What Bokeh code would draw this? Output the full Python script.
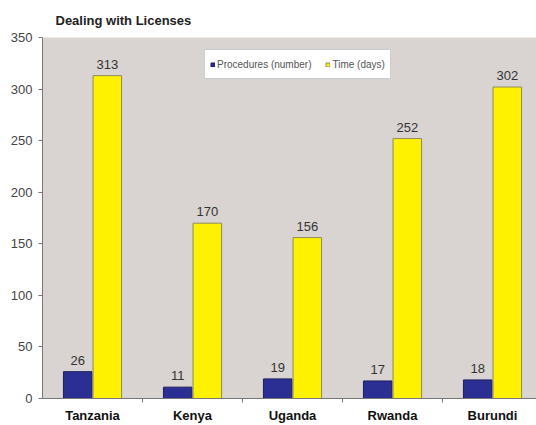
from bokeh.plotting import figure
from bokeh.models import (ColumnDataSource, Range1d, FixedTicker, LabelSet,
                          Legend, LegendItem)
from bokeh.core.properties import value
from bokeh.embed import file_html
from bokeh.resources import INLINE

countries = ["Tanzania", "Kenya", "Uganda", "Rwanda", "Burundi"]
procedures = [26, 11, 19, 17, 18]
time_days = [313, 170, 156, 252, 302]

FONT = "Liberation Sans"
BLUE = "#2b2f94"
YELLOW = "#fff200"
BG = "#d9d3d1"

centers = [i + 0.5 for i in range(len(countries))]
src = ColumnDataSource(dict(
    xp=[c - 0.148 for c in centers],
    xt=[c + 0.148 for c in centers],
    proc=procedures,
    days=time_days,
    proc_txt=[str(v) for v in procedures],
    days_txt=[str(v) for v in time_days],
))

p = figure(width=536, height=425, output_backend="svg", toolbar_location=None,
           x_range=Range1d(0, 4.94), y_range=Range1d(0, 350),
           min_border_left=42, min_border_right=0, min_border_bottom=25,
           min_border_top=37, background_fill_color=BG,
           border_fill_color="white", outline_line_color=None)

p.title.text = "Dealing with Licenses"
p.title.text_font = FONT
p.title.text_font_size = "13px"
p.title.text_font_style = "bold"
p.title.text_color = "#222222"
p.title.offset = 13
p.title.standoff = 19

p.xgrid.visible = False
p.ygrid.visible = False

rp = p.vbar(x="xp", top="proc", width=0.285, source=src, fill_color=BLUE,
            line_color="#1c1f60", line_width=1)
rt = p.vbar(x="xt", top="days", width=0.285, source=src, fill_color=YELLOW,
            line_color="#8f8a5a", line_width=1)

for col, ycol in (("xp", "proc"), ("xt", "days")):
    p.add_layout(LabelSet(x=col, y=ycol, text=ycol + "_txt", source=src,
                          text_align="center", text_baseline="bottom",
                          y_offset=7, text_font_size=value("13px"),
                          text_font=value(FONT), text_color="#333333"))

# x axis: labels centred on each country, ticks on the category boundaries
xa = p.xaxis[0]
xa.ticker = FixedTicker(ticks=centers, minor_ticks=[1, 2, 3, 4])
xa.major_label_overrides = {c: n for c, n in zip(centers, countries)}
xa.major_tick_out = 0
xa.major_tick_in = 0
xa.minor_tick_out = 4
xa.minor_tick_in = 0
xa.minor_tick_line_color = "#777777"
xa.axis_line_color = "#777777"
xa.major_label_text_font = FONT
xa.major_label_text_font_size = "13px"
xa.major_label_text_font_style = "bold"
xa.major_label_text_color = "#111111"
xa.major_label_standoff = 5

ya = p.yaxis[0]
ya.ticker = FixedTicker(ticks=list(range(0, 351, 50)))
ya.major_tick_out = 4
ya.major_tick_in = 0
ya.minor_tick_out = 0
ya.minor_tick_in = 0
ya.axis_line_color = "#777777"
ya.major_tick_line_color = "#777777"
ya.major_label_text_font = FONT
ya.major_label_text_font_size = "13px"
ya.major_label_text_color = "#444444"
ya.major_label_standoff = 6

legend = Legend(items=[LegendItem(label="Procedures (number)", renderers=[rp]),
                       LegendItem(label="Time (days)", renderers=[rt])],
                orientation="horizontal", location=(162, 319),
                label_text_font=FONT, label_text_font_size="10px",
                label_text_color="#555555", glyph_width=5, glyph_height=5,
                label_standoff=2, spacing=14, padding=5, margin=0,
                label_height=18,
                border_line_color="#999999", border_line_width=1.5,
                background_fill_color="white", background_fill_alpha=1)
p.add_layout(legend, "center")

open("out.html", "w").write(file_html(p, INLINE))
